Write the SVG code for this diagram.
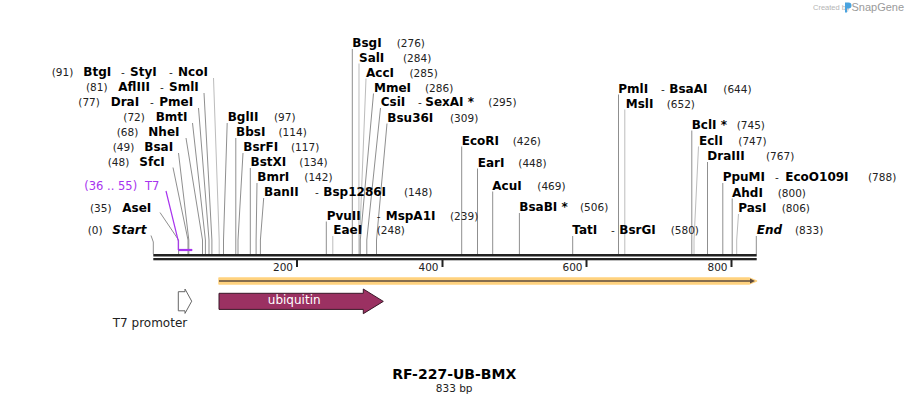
<svg xmlns="http://www.w3.org/2000/svg" width="910" height="404" viewBox="0 0 910 404">
<style>
text{font-family:"DejaVu Sans",Verdana,sans-serif}
.n{font-weight:bold;font-size:12px;fill:#000}
.ni{font-weight:bold;font-style:italic;font-size:12px;fill:#000}
.p{font-size:10.5px;fill:#222}
.t7{font-size:11.5px;fill:#a733ee}
.ln{stroke:#8f8f8f;stroke-width:1;fill:none}
.lt{stroke:#bcbcbc;stroke-width:1;fill:none}
.pu{stroke:#a733ee;stroke-width:1.2;fill:none}
.tk{font-size:10.5px;fill:#222;text-anchor:end}
</style>
<rect width="910" height="404" fill="#fff"/>
<g id="logo">
<text x="813" y="10" style="font-family:'Liberation Sans',Arial,sans-serif;font-size:7.5px;fill:#b5b5b5">Created by</text>
<path d="M845 2.5h3.5a3 3 0 0 1 0 6h-1.5v4h-2z" fill="#4aa3df"/>
<text x="851.5" y="11" style="font-family:'Liberation Sans',Arial,sans-serif;font-size:11px;fill:#9a9a9a">SnapGene</text>
</g>
<g id="connectors">
<polyline class="lt" points="213.5,78 219.2,240 219.2,254"/>
<polyline class="ln" points="204,93 211.9,240 211.9,254"/>
<polyline class="ln" points="198.5,108 209,240 209,254"/>
<polyline class="ln" points="192.5,123 205.4,240 205.4,254"/>
<polyline class="ln" points="186,138 202.5,240 202.5,254"/>
<polyline class="ln" points="178.5,153 188.8,240 188.8,254"/>
<polyline class="ln" points="173,167.5 188,240 188,254"/>
<polyline class="ln" points="160,212.5 178.6,240 178.6,254"/>
<polyline class="ln" points="151,235.5 153.3,242 153.3,254"/>
<polyline class="pu" points="166,191 178.3,241 178.3,250"/>
<line x1="178.3" y1="250" x2="192.3" y2="250" stroke="#a733ee" stroke-width="2.2"/>
<polyline class="ln" points="227.2,123 223.5,240 223.5,254"/>
<polyline class="ln" points="235.8,138 235.8,254"/>
<polyline class="ln" points="243,153 238,240 238,254"/>
<polyline class="ln" points="250.3,168 250.3,254"/>
<polyline class="ln" points="257,183 256.1,240 256.1,254"/>
<polyline class="ln" points="263.7,198 260.4,240 260.4,254"/>
<polyline class="ln" points="326.3,221.5 326.3,254"/>
<polyline class="lt" points="332.8,236 332.8,254"/>
<polyline class="ln" points="352.3,49 352.3,254"/>
<polyline class="lt" points="359,63.5 358.9,240 358.9,254"/>
<polyline class="lt" points="366,78.5 359.6,240 359.6,254"/>
<polyline class="ln" points="373.5,93.5 360.3,240 360.3,254"/>
<polyline class="ln" points="380.5,108 366.8,240 366.8,254"/>
<polyline class="ln" points="387,123.5 376.5,240 376.5,254"/>
<polyline class="ln" points="461.7,146.5 461.7,254"/>
<polyline class="ln" points="477.5,168.5 477.5,254"/>
<polyline class="ln" points="492.7,191.5 492.7,254"/>
<polyline class="ln" points="519.4,213 519.4,254"/>
<polyline class="ln" points="572.7,236 572.7,254"/>
<polyline class="ln" points="618.5,94.5 618.5,254"/>
<polyline class="lt" points="624.8,109.5 624.8,254"/>
<polyline class="ln" points="691.8,130.5 691.8,254"/>
<polyline class="lt" points="698.5,146.5 694,240 694,254"/>
<polyline class="ln" points="707.5,162 707.5,254"/>
<polyline class="ln" points="722.8,183 722.8,254"/>
<polyline class="ln" points="732.2,198.5 732.2,254"/>
<polyline class="lt" points="738.5,214 736.7,240 736.7,254"/>
<polyline class="ln" points="756.3,236 756.3,254"/>
</g>
<g id="sequence">
<rect x="153.3" y="254" width="603.4" height="2.5" fill="#222"/>
<rect x="153.3" y="258" width="603.4" height="2.3" fill="#222"/>
<rect x="296" y="260" width="2" height="7" fill="#222"/>
<rect x="441.5" y="260" width="2" height="7" fill="#222"/>
<rect x="585.5" y="260" width="2" height="7" fill="#222"/>
<rect x="730.5" y="260" width="2" height="7" fill="#222"/>
<text class="tk" x="293" y="271">200</text>
<text class="tk" x="438.5" y="271">400</text>
<text class="tk" x="582.5" y="271">600</text>
<text class="tk" x="727.5" y="271">800</text>
</g>
<g id="site-BtgI"><text y="76"><tspan class="p" x="51.7">(91)</tspan><tspan class="n" x="83.3">BtgI</tspan><tspan class="p" x="121">-</tspan><tspan class="n" x="130">StyI</tspan><tspan class="p" x="169">-</tspan><tspan class="n" x="178">NcoI</tspan></text></g>
<g id="site-AflIII"><text y="91"><tspan class="p" x="86">(81)</tspan><tspan class="n" x="118.3">AflIII</tspan><tspan class="p" x="160">-</tspan><tspan class="n" x="169">SmlI</tspan></text></g>
<g id="site-DraI"><text y="106"><tspan class="p" x="78.3">(77)</tspan><tspan class="n" x="110.7">DraI</tspan><tspan class="p" x="150">-</tspan><tspan class="n" x="159.3">PmeI</tspan></text></g>
<g id="site-BmtI"><text y="121"><tspan class="p" x="123.3">(72)</tspan><tspan class="n" x="155.7">BmtI</tspan></text></g>
<g id="site-NheI"><text y="136"><tspan class="p" x="116.7">(68)</tspan><tspan class="n" x="148.3">NheI</tspan></text></g>
<g id="site-BsaI"><text y="151"><tspan class="p" x="112.7">(49)</tspan><tspan class="n" x="144.3">BsaI</tspan></text></g>
<g id="site-SfcI"><text y="166"><tspan class="p" x="107.7">(48)</tspan><tspan class="n" x="139.3">SfcI</tspan></text></g>
<g id="feature-T7"><text y="189.5" class="t7"><tspan x="84.3">(36 .. 55)</tspan><tspan x="145">T7</tspan></text></g>
<g id="site-AseI"><text y="212"><tspan class="p" x="90">(35)</tspan><tspan class="n" x="122.3">AseI</tspan></text></g>
<g id="site-Start"><text y="234"><tspan class="p" x="87.7">(0)</tspan><tspan class="ni" x="112.3">Start</tspan></text></g>
<g id="site-BglII"><text y="121"><tspan class="n" x="227.7">BglII</tspan><tspan class="p" x="274">(97)</tspan></text></g>
<g id="site-BbsI"><text y="136"><tspan class="n" x="236">BbsI</tspan><tspan class="p" x="278.5">(114)</tspan></text></g>
<g id="site-BsrFI"><text y="151"><tspan class="n" x="243.3">BsrFI</tspan><tspan class="p" x="291">(117)</tspan></text></g>
<g id="site-BstXI"><text y="166"><tspan class="n" x="250.5">BstXI</tspan><tspan class="p" x="299.3">(134)</tspan></text></g>
<g id="site-BmrI"><text y="181"><tspan class="n" x="257.3">BmrI</tspan><tspan class="p" x="304.3">(142)</tspan></text></g>
<g id="site-BanII"><text y="196"><tspan class="n" x="264">BanII</tspan><tspan class="p" x="315">-</tspan><tspan class="n" x="323.3">Bsp1286I</tspan><tspan class="p" x="404">(148)</tspan></text></g>
<g id="site-PvuII"><text y="219.5"><tspan class="n" x="326.7">PvuII</tspan><tspan class="p" x="376.7">-</tspan><tspan class="n" x="385.7">MspA1I</tspan><tspan class="p" x="450">(239)</tspan></text></g>
<g id="site-EaeI"><text y="234"><tspan class="n" x="333.3">EaeI</tspan><tspan class="p" x="376.7">(248)</tspan></text></g>
<g id="site-BsgI"><text y="47"><tspan class="n" x="352.3">BsgI</tspan><tspan class="p" x="396.7">(276)</tspan></text></g>
<g id="site-SalI"><text y="61.5"><tspan class="n" x="359">SalI</tspan><tspan class="p" x="403">(284)</tspan></text></g>
<g id="site-AccI"><text y="76.5"><tspan class="n" x="366">AccI</tspan><tspan class="p" x="409.5">(285)</tspan></text></g>
<g id="site-MmeI"><text y="91.5"><tspan class="n" x="374">MmeI</tspan><tspan class="p" x="425">(286)</tspan></text></g>
<g id="site-CsiI"><text y="106"><tspan class="n" x="380.7">CsiI</tspan><tspan class="p" x="418">-</tspan><tspan class="n" x="425.3">SexAI *</tspan><tspan class="p" x="488.3">(295)</tspan></text></g>
<g id="site-Bsu36I"><text y="121.5"><tspan class="n" x="387.3">Bsu36I</tspan><tspan class="p" x="450">(309)</tspan></text></g>
<g id="site-EcoRI"><text y="144.5"><tspan class="n" x="461.7">EcoRI</tspan><tspan class="p" x="512.7">(426)</tspan></text></g>
<g id="site-EarI"><text y="166.7"><tspan class="n" x="477.7">EarI</tspan><tspan class="p" x="518.3">(448)</tspan></text></g>
<g id="site-AcuI"><text y="189.5"><tspan class="n" x="492.3">AcuI</tspan><tspan class="p" x="537.3">(469)</tspan></text></g>
<g id="site-BsaBI"><text y="211"><tspan class="n" x="519.3">BsaBI *</tspan><tspan class="p" x="580">(506)</tspan></text></g>
<g id="site-TatI"><text y="234"><tspan class="n" x="572.3">TatI</tspan><tspan class="p" x="611">-</tspan><tspan class="n" x="619.3">BsrGI</tspan><tspan class="p" x="670.7">(580)</tspan></text></g>
<g id="site-PmlI"><text y="92.5"><tspan class="n" x="618.3">PmlI</tspan><tspan class="p" x="661">-</tspan><tspan class="n" x="669.3">BsaAI</tspan><tspan class="p" x="723.3">(644)</tspan></text></g>
<g id="site-MslI"><text y="107.5"><tspan class="n" x="625.7">MslI</tspan><tspan class="p" x="666.7">(652)</tspan></text></g>
<g id="site-BclI"><text y="128.5"><tspan class="n" x="691.7">BclI *</tspan><tspan class="p" x="736.7">(745)</tspan></text></g>
<g id="site-EclI"><text y="144.5"><tspan class="n" x="699">EclI</tspan><tspan class="p" x="738.3">(747)</tspan></text></g>
<g id="site-DraIII"><text y="160"><tspan class="n" x="707.3">DraIII</tspan><tspan class="p" x="766">(767)</tspan></text></g>
<g id="site-PpuMI"><text y="181"><tspan class="n" x="722.7">PpuMI</tspan><tspan class="p" x="775">-</tspan><tspan class="n" x="785.3">EcoO109I</tspan><tspan class="p" x="868">(788)</tspan></text></g>
<g id="site-AhdI"><text y="196.5"><tspan class="n" x="732">AhdI</tspan><tspan class="p" x="777.7">(800)</tspan></text></g>
<g id="site-PasI"><text y="212"><tspan class="n" x="738.3">PasI</tspan><tspan class="p" x="781.7">(806)</tspan></text></g>
<g id="site-End"><text y="234"><tspan class="ni" x="756.7">End</tspan><tspan class="p" x="795">(833)</tspan></text></g>
<g id="feature-orf">
<path d="M219 278H749L756.5 281L749 284H219Z" fill="#ffd27f" stroke="#ffd27f" stroke-width="1.5" stroke-linejoin="round"/>
<line x1="219" y1="281" x2="751" y2="281" stroke="#5e4b3c" stroke-width="1.6"/>
<path d="M750 278.6L755 281L750 283.4Z" fill="#5e4b3c"/>
</g>
<g id="feature-T7promoter">
<path d="M178.3 291.7H185V289L191.7 301.2L185 313.4V310.8H178.3Z" fill="#fff" stroke="#666" stroke-width="1"/>
<text x="150" y="327" text-anchor="middle" style="font-size:12px;fill:#222">T7 promoter</text>
</g>
<g id="feature-ubiquitin">
<path d="M219 293.3H363.3V289L383.3 301.4L363.3 313.7V309.4H219Z" fill="#9b3162" stroke="#3a1828" stroke-width="1"/>
<text x="294.2" y="304.3" text-anchor="middle" style="font-size:12px;fill:#fff">ubiquitin</text>
</g>
<g id="title">
<text x="454.2" y="379" text-anchor="middle" style="font-weight:bold;font-size:14px;fill:#000">RF-227-UB-BMX</text>
<text x="454.2" y="391.7" text-anchor="middle" style="font-size:10.5px;fill:#222">833 bp</text>
</g>
</svg>
